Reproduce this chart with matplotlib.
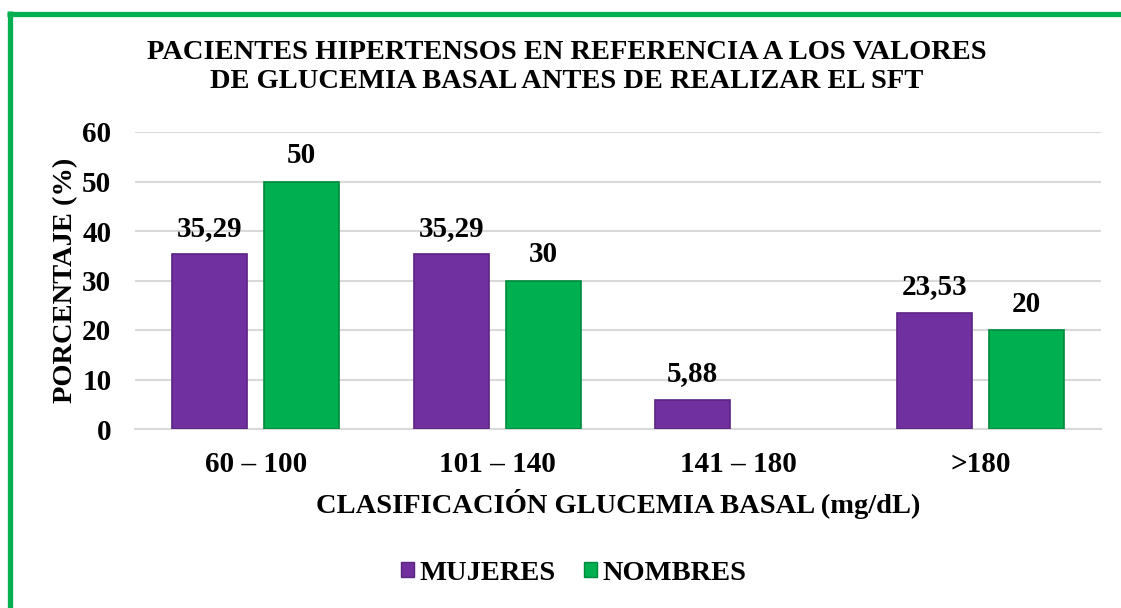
import matplotlib
matplotlib.use("Agg")
import matplotlib.pyplot as plt
from matplotlib.lines import Line2D
from matplotlib.patches import Patch
import numpy as np

categories = ["60 – 100", "101 – 140", "141 – 180", ">180"]
mujeres = [35.29, 35.29, 5.88, 23.53]
hombres = [50, 30, 0, 20]
labels_mujeres = ["35,29", "35,29", "5,88", "23,53"]
labels_hombres = ["50", "30", "", "20"]
yticks = [0, 10, 20, 30, 40, 50, 60]

PURPLE = "#7030A0"
GREEN = "#00B050"

plt.rcParams['font.family'] = ['Liberation Serif', 'DejaVu Serif']
plt.rcParams['font.weight'] = 'bold'

W, H = 1121, 608
fig = plt.figure(figsize=(W / 100, H / 100), dpi=100)
ax = fig.add_axes([135 / W, 1 - 429 / H, (1101 - 135) / W, (429 - 132) / H])

x = np.arange(len(categories))
bw = 0.31
off = 0.19
b1 = ax.bar(x - off, mujeres, bw, color=PURPLE, edgecolor="#5A2483", linewidth=1.2, zorder=3)
b2 = ax.bar(x + off, hombres, bw, color=GREEN, edgecolor="#008A3E", linewidth=1.2, zorder=3)
for rect in list(b1) + list(b2):
    if rect.get_height() == 0:
        rect.set_linewidth(0)

for rect, lab in zip(b1, labels_mujeres):
    ax.annotate(lab, (rect.get_x() + rect.get_width() / 2, rect.get_height()),
                xytext=(0, 9), textcoords="offset points", ha="center", va="bottom",
                fontsize=21, fontweight="bold")
for rect, lab in zip(b2, labels_hombres):
    if lab:
        ax.annotate(lab, (rect.get_x() + rect.get_width() / 2, rect.get_height()),
                    xytext=(0, 9), textcoords="offset points", ha="center", va="bottom",
                    fontsize=21, fontweight="bold")

ax.set_xlim(-0.5, len(categories) - 0.5)
ax.set_ylim(0, 60)
ax.set_yticks(yticks)
ax.set_yticklabels([str(v) for v in yticks], fontsize=21, fontweight="bold")
ax.set_xticks(x)
ax.set_xticklabels(categories, fontsize=21, fontweight="bold")
ax.tick_params(axis="y", length=0, pad=17)
ax.tick_params(axis="x", length=0, pad=16)
ax.grid(axis="y", color="#D9D9D9", linewidth=1.5, zorder=0)
for s in ["top", "right", "left"]:
    ax.spines[s].set_visible(False)
ax.spines["bottom"].set_color("#D9D9D9")
ax.spines["bottom"].set_linewidth(1.5)

ax.set_ylabel("PORCENTAJE (%)", fontsize=20.5, fontweight="bold", labelpad=3)
ax.set_xlabel("CLASIFICACIÓN GLUCEMIA BASAL (mg/dL)", fontsize=20.5, fontweight="bold", labelpad=8)

fig.text(567 / W, 1 - 67 / H,
         "PACIENTES HIPERTENSOS EN REFERENCIA A LOS VALORES\nDE GLUCEMIA BASAL ANTES DE REALIZAR EL SFT",
         ha="center", va="center", fontsize=20.5, fontweight="bold", linespacing=1.25)

handles = [Patch(facecolor=PURPLE, edgecolor="#5A2483"), Patch(facecolor=GREEN, edgecolor="#008A3E")]
fig.legend(handles, ["MUJERES", "NOMBRES"], loc="center", bbox_to_anchor=(574 / W, 1 - 573 / H),
           ncol=2, frameon=False, prop={"size": 20.5, "weight": "bold"},
           handlelength=0.45, handleheight=0.45, handletextpad=0.2, columnspacing=1.0)

# green frame
fig.add_artist(Line2D([7 / W, 1], [1 - 13.5 / H, 1 - 13.5 / H], transform=fig.transFigure,
                      color=GREEN, linewidth=3.8, solid_capstyle="butt"))
fig.add_artist(Line2D([9.5 / W, 9.5 / W], [1 - 11 / H, 0], transform=fig.transFigure,
                      color=GREEN, linewidth=3.8, solid_capstyle="butt"))

fig.savefig("out.png", dpi=100)
